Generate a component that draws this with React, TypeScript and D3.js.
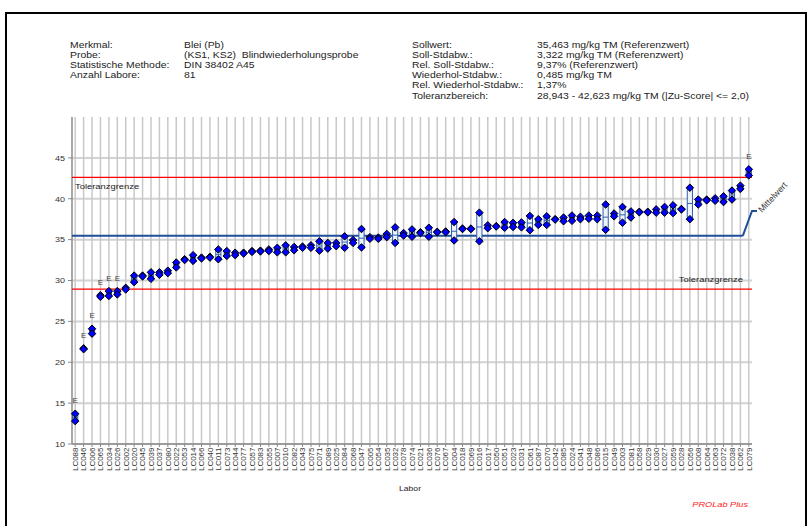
import React from 'react';
import * as d3 from 'd3';

// Laboratories, ordered by their mean result
const labs = [
  'LC088', 'LC046', 'LC006', 'LC065', 'LC034', 'LC026', 'LC002', 'LC020', 'LC045', 'LC039',
  'LC037', 'LC080', 'LC022', 'LC053', 'LC014', 'LC066', 'LC040', 'LC011', 'LC073', 'LC044',
  'LC077', 'LC057', 'LC083', 'LC055', 'LC007', 'LC010', 'LC082', 'LC043', 'LC075', 'LC071',
  'LC089', 'LC025', 'LC084', 'LC068', 'LC047', 'LC005', 'LC054', 'LC035', 'LC032', 'LC078',
  'LC074', 'LC021', 'LC036', 'LC076', 'LC067', 'LC004', 'LC018', 'LC069', 'LC016', 'LC017',
  'LC050', 'LC051', 'LC023', 'LC031', 'LC061', 'LC087', 'LC070', 'LC042', 'LC085', 'LC024',
  'LC041', 'LC048', 'LC086', 'LC015', 'LC049', 'LC003', 'LC081', 'LC058', 'LC029', 'LC030',
  'LC027', 'LC059', 'LC028', 'LC056', 'LC008', 'LC064', 'LC063', 'LC072', 'LC038', 'LC062',
  'LC079',
];

// Replicate results per laboratory (mg/kg TM)
const ks1 = [
  13.7, 21.7, 24.1, 28.2, 28.7, 28.7, 29.1, 30.6, 30.6, 31.0,
  31.0, 31.2, 32.2, 32.6, 33.1, 32.8, 32.9, 33.8, 33.6, 33.4,
  33.4, 33.6, 33.65, 33.8, 34.0, 34.3, 34.1, 34.15, 34.3, 34.8,
  34.6, 34.6, 35.4, 34.95, 36.3, 35.3, 35.25, 35.7, 36.5, 35.8,
  36.25, 35.9, 36.45, 35.95, 36.0, 37.15, 36.35, 36.35, 38.3, 36.75,
  36.65, 37.15, 37.05, 37.1, 37.9, 37.5, 37.85, 37.5, 37.7, 37.95,
  37.8, 37.95, 37.95, 39.3, 38.2, 39.0, 38.45, 38.4, 38.4, 38.7,
  39.0, 39.2, 38.75, 41.35, 39.9, 39.9, 40.05, 40.3, 41.0, 41.6,
  43.6,
];
const ks2 = [
  12.8, 21.6, 23.5, 28.0, 28.1, 28.3, 28.9, 29.8, 30.5, 30.2,
  30.7, 30.9, 31.6, 32.5, 32.4, 32.7, 32.8, 32.6, 33.0, 33.1,
  33.3, 33.5, 33.55, 33.6, 33.45, 33.45, 33.7, 34.0, 34.0, 33.65,
  33.9, 34.2, 34.0, 34.6, 34.05, 35.1, 35.1, 35.3, 34.6, 35.5,
  35.35, 35.8, 35.35, 35.9, 35.9, 34.9, 36.3, 36.3, 34.8, 36.4,
  36.6, 36.45, 36.55, 36.5, 36.15, 36.8, 36.8, 37.45, 37.25, 37.3,
  37.5, 37.55, 37.5, 36.2, 37.85, 37.07, 37.7, 38.35, 38.35, 38.3,
  38.3, 38.25, 38.7, 37.5, 39.3, 39.8, 39.75, 39.6, 39.9, 41.2,
  42.85,
];

// Laboratories marked "E"
const flagged = ['LC088', 'LC046', 'LC006', 'LC065', 'LC034', 'LC026', 'LC079'];

const yTicks = [10, 15, 20, 25, 30, 35, 40, 45];
const sollwert = 35.463;
const tolLow = 28.943;
const tolHigh = 42.623;

const infoLabelsLeft = ['Merkmal:', 'Probe:', 'Statistische Methode:', 'Anzahl Labore:'];
const infoValuesLeft = ['Blei (Pb)', '(KS1, KS2)  Blindwiederholungsprobe', 'DIN 38402 A45', '81'];
const infoLabelsRight = [
  'Sollwert:', 'Soll-Stdabw.:', 'Rel. Soll-Stdabw.:', 'Wiederhol-Stdabw.:',
  'Rel. Wiederhol-Stdabw.:', 'Toleranzbereich:',
];
const infoValuesRight = [
  '35,463 mg/kg TM (Referenzwert)', '3,322 mg/kg TM (Referenzwert)', '9,37% (Referenzwert)',
  '0,485 mg/kg TM', '1,37%', '28,943 - 42,623 mg/kg TM (|Zu-Score| <= 2,0)',
];

const FONT = '"Liberation Sans", Arial, sans-serif';
const SY = 0.82; // vertical squeeze of the lettering

type TProps = {
  x: number; y: number; size: number; sy?: number; anchor?: string; fill?: string;
  italic?: boolean; rotate?: number; children: React.ReactNode;
};
const T = ({ x, y, size, sy = SY, anchor = 'start', fill = '#222', italic, rotate = 0, children }: TProps) => (
  <text
    transform={`translate(${x},${y}) rotate(${rotate}) scale(1,${sy})`}
    fontSize={size}
    fontFamily={FONT}
    textAnchor={anchor}
    fill={fill}
    fontStyle={italic ? 'italic' : 'normal'}
    style={{ whiteSpace: 'pre' }}
  >
    {children}
  </text>
);

export default function App() {
  const W = 810;
  const H = 526;
  const left = 72;
  const right = 752;
  const top = 117;
  const bottom = 444;

  const x = d3.scalePoint<string>().domain(labs).range([left, right]).padding(0.38);
  const y = d3.scaleLinear().domain([10, 50]).range([bottom, top]);
  const diamond = d3.symbol().type(d3.symbolDiamond2).size(36)() as string;

  const lineGap = 10.2;
  const infoBase = 47.5;

  const yMean = y(sollwert);
  const lastX = x(labs[labs.length - 1]) as number;
  const leader = d3.line()([
    [lastX - 6, yMean],
    [right, 211],
    [right + 5, 211],
  ]) as string;

  return (
    <svg width={W} height={H} style={{ position: 'absolute', left: 0, top: 0, background: '#fff' }}>
      <rect x={6} y={13} width={800} height={530} fill="none" stroke="#000" strokeWidth={2} />

      {/* header block */}
      {infoLabelsLeft.map((t, i) => (
        <T key={'ll' + i} x={70} y={infoBase + i * lineGap} size={10.4}>{t}</T>
      ))}
      {infoValuesLeft.map((t, i) => (
        <T key={'lv' + i} x={184} y={infoBase + i * lineGap} size={10.4}>{t}</T>
      ))}
      {infoLabelsRight.map((t, i) => (
        <T key={'rl' + i} x={412} y={infoBase + i * lineGap} size={10.4}>{t}</T>
      ))}
      {infoValuesRight.map((t, i) => (
        <T key={'rv' + i} x={537} y={infoBase + i * lineGap} size={10.4}>{t}</T>
      ))}

      {/* grid */}
      {yTicks.map((v) => (
        <line key={'hg' + v} x1={left} x2={right} y1={y(v)} y2={y(v)} stroke="#d2d2d2" strokeWidth={2} />
      ))}
      {labs.map((l) => (
        <line key={'vg' + l} x1={x(l)} x2={x(l)} y1={top} y2={bottom} stroke="#c8c8c8" strokeWidth={1.5} />
      ))}

      {/* axes */}
      <line x1={left} x2={left} y1={top} y2={bottom} stroke="#8a8a8a" strokeWidth={1.5} />
      <line x1={left} x2={right} y1={bottom} y2={bottom} stroke="#8a8a8a" strokeWidth={1.5} />
      {yTicks.map((v) => (
        <g key={'yt' + v}>
          <line x1={left - 4} x2={left} y1={y(v)} y2={y(v)} stroke="#8a8a8a" strokeWidth={1} />
          <T x={65} y={y(v) + 2.8} size={9} anchor="end" fill="#333">{String(v)}</T>
        </g>
      ))}
      {labs.map((l) => (
        <g key={'xt' + l}>
          <line x1={x(l)} x2={x(l)} y1={bottom} y2={bottom + 3} stroke="#8a8a8a" strokeWidth={1} />
          <T x={(x(l) as number) + 2.8} y={bottom + 3.5} size={8} sy={0.95} rotate={-90} anchor="end" fill="#333">{l}</T>
        </g>
      ))}
      <T x={410} y={491} size={8.6} anchor="middle" fill="#222">Labor</T>
      <T x={748} y={507} size={9.2} anchor="end" fill="#ff2020" italic>PROLab Plus</T>

      {/* tolerance limits and assigned value */}
      <line x1={left} x2={right} y1={y(tolHigh)} y2={y(tolHigh)} stroke="#ff0000" strokeWidth={1.3} />
      <line x1={left} x2={right} y1={y(tolLow)} y2={y(tolLow)} stroke="#ff0000" strokeWidth={1.3} />
      <T x={75} y={189} size={9.4} fill="#222">Toleranzgrenze</T>
      <T x={743} y={282} size={9.4} anchor="end" fill="#222">Toleranzgrenze</T>
      <line x1={left} x2={lastX - 6} y1={yMean} y2={yMean} stroke="#1f4f9c" strokeWidth={2} />
      <path d={leader} fill="none" stroke="#1f4f9c" strokeWidth={2} />
      <T x={762} y={213} size={8.8} sy={1} rotate={-47} fill="#333">Mittelwert</T>

      {/* replicate ranges */}
      {labs.map((l, i) => {
        const cx = x(l) as number;
        const hi = Math.max(ks1[i], ks2[i]);
        const lo = Math.min(ks1[i], ks2[i]);
        const m = (hi + lo) / 2;
        return (
          <g key={'bx' + l}>
            <rect x={cx - 2.6} y={y(hi)} width={5.2} height={Math.max(0.5, y(lo) - y(hi))}
              fill="#eef3fb" stroke="#2d5fae" strokeWidth={1} />
            <line x1={cx - 2.6} x2={cx + 2.6} y1={y(m)} y2={y(m)} stroke="#2d5fae" strokeWidth={1} />
          </g>
        );
      })}

      {/* single results */}
      {labs.map((l, i) => (
        <g key={'pt' + l}>
          {[ks1[i], ks2[i]].map((v, j) => (
            <path key={j} d={diamond} transform={`translate(${x(l)},${y(v)})`}
              fill="#0000ff" stroke="#000" strokeWidth={1} />
          ))}
        </g>
      ))}

      {/* outlier flags */}
      {labs.map((l, i) =>
        flagged.includes(l) ? (
          <T key={'e' + l} x={x(l) as number} y={y(Math.max(ks1[i], ks2[i])) - 10.5} size={8} sy={0.9} anchor="middle" fill="#444">E</T>
        ) : null
      )}
    </svg>
  );
}
